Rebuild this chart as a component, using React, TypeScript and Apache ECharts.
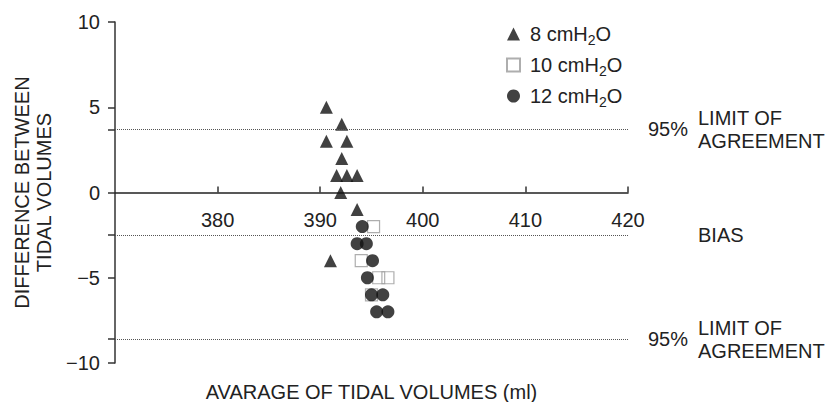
import React, { useEffect, useRef } from "react";
import * as echarts from "echarts";

const FONT = "'Liberation Sans', Arial, Helvetica, sans-serif";
const TEXT = "#222222";
const AXIS = "#333333";

const seriesNames = ["8 cmH2O", "10 cmH2O", "12 cmH2O"];

// [average of tidal volumes, difference between tidal volumes]
const pressure8: number[][] = [
  [390.6, 5], [392.1, 4], [390.6, 3], [392.6, 3], [392.1, 2],
  [391.6, 1], [392.6, 1], [393.6, 1], [392.0, 0], [393.6, -1], [391.0, -4],
];
const pressure10: number[][] = [
  [395.2, -2], [394.0, -4], [395.7, -5], [396.6, -5], [395.0, -6],
];
const pressure12: number[][] = [
  [394.1, -2], [393.6, -3], [394.5, -3], [395.1, -4], [394.6, -5],
  [395.0, -6], [396.1, -6], [395.5, -7], [396.6, -7],
];

const upperLimit = 3.7;
const bias = -2.5;
const lowerLimit = -8.6;

const xMin = 370;
const xMax = 420;
const xInterval = 10;
const yMin = -10;
const yMax = 10;
const yInterval = 5;
const yTickValues = [-10, lowerLimit, -5, bias, 0, upperLimit, 5, 10];

const xAxisName = "AVARAGE OF TIDAL VOLUMES (ml)";
const yAxisName = "DIFFERENCE BETWEEN\nTIDAL VOLUMES";
const limitLabel = "LIMIT OF\nAGREEMENT";
const percentLabel = "95%";
const biasLabel = "BIAS";

function legendText(name: string): string {
  const m = name.match(/^(.*H)2(O)$/);
  if (!m) return `{n|${name}}`;
  return `{n|${m[1]}}{s|2}{n|${m[2]}}`;
}

export default function App() {
  const ref = useRef<HTMLDivElement>(null);
  useEffect(() => {
    if (!ref.current) return;
    const chart = echarts.init(ref.current, undefined, { renderer: "svg" });
    const labelStyle = { fontSize: 20, color: TEXT, fontFamily: FONT };
    const option: any = {
      animation: false,
      textStyle: { fontFamily: FONT },
      grid: [
        { left: 115, right: 205, top: 22, bottom: 39, containLabel: false, outerBoundsMode: "none" },
        { left: 115, right: 205, top: 22, height: 170.5, containLabel: false, outerBoundsMode: "none" },
      ],
      legend: {
        orient: "vertical",
        left: 501,
        top: 19,
        itemWidth: 13,
        itemHeight: 13,
        itemGap: 8,
        data: seriesNames,
        formatter: legendText,
        textStyle: {
          color: TEXT,
          fontFamily: FONT,
          padding: [0, 0, 0, 5],
          rich: {
            n: { fontSize: 20, lineHeight: 26, color: TEXT, fontFamily: FONT },
            s: { fontSize: 14, lineHeight: 14, verticalAlign: "bottom", color: TEXT, fontFamily: FONT },
          },
        },
      },
      xAxis: [
        {
          type: "value",
          gridIndex: 0,
          min: xMin,
          max: xMax,
          interval: xInterval,
          show: false,
          splitLine: { show: false },
        },
        {
          type: "value",
          gridIndex: 1,
          position: "bottom",
          min: xMin,
          max: xMax,
          interval: xInterval,
          name: xAxisName,
          nameLocation: "middle",
          nameGap: 189,
          nameTextStyle: labelStyle,
          axisLine: { show: true, onZero: false, lineStyle: { color: "#222222", width: 1.6 } },
          axisTick: { show: true, inside: true, length: 6, lineStyle: { color: AXIS, width: 1.5 } },
          axisLabel: { ...labelStyle, margin: 17, showMinLabel: false },
          splitLine: { show: false },
        },
      ],
      yAxis: [
        {
          type: "value",
          gridIndex: 0,
          min: yMin,
          max: yMax,
          interval: yInterval,
          name: yAxisName,
          nameLocation: "middle",
          nameRotate: 90,
          nameGap: 59,
          nameTextStyle: { ...labelStyle, lineHeight: 22 },
          axisLine: { show: true, onZero: false, lineStyle: { color: AXIS, width: 1.5 } },
          axisTick: { show: true, inside: false, length: 7, customValues: yTickValues, lineStyle: { color: AXIS, width: 1.5 } },
          axisLabel: {
            ...labelStyle,
            margin: 15,
            formatter: (v: number) => (v < 0 ? "\u2212" + Math.abs(v) : String(v)),
          },
          splitLine: { show: false },
        },
        {
          type: "value",
          gridIndex: 1,
          min: 0,
          max: yMax,
          show: false,
          splitLine: { show: false },
        },
      ],
      series: [
        {
          type: "scatter",
          name: seriesNames[0],
          xAxisIndex: 0,
          yAxisIndex: 0,
          data: pressure8,
          symbol: "triangle",
          symbolSize: 13,
          itemStyle: { color: "#111111" },
          z: 2,
          markLine: {
            silent: true,
            symbol: ["none", "none"],
            lineStyle: { type: "dotted", color: "#555555", width: 1 },
            label: { show: true, position: "end", ...labelStyle, lineHeight: 23 },
            data: [
              { yAxis: upperLimit, label: { formatter: percentLabel, distance: 20 } },
              { yAxis: upperLimit, label: { formatter: limitLabel, distance: 70 } },
              { yAxis: bias, label: { formatter: biasLabel, distance: 70 } },
              { yAxis: lowerLimit, label: { formatter: percentLabel, distance: 20 } },
              { yAxis: lowerLimit, label: { formatter: limitLabel, distance: 70 } },
            ],
          },
        },
        {
          type: "scatter",
          name: seriesNames[1],
          xAxisIndex: 0,
          yAxisIndex: 0,
          data: pressure10,
          symbol: "rect",
          symbolSize: 12,
          itemStyle: { color: "rgba(255,255,255,0)", borderColor: "#9a9a9a", borderWidth: 1.2 },
          z: 3,
        },
        {
          type: "scatter",
          name: seriesNames[2],
          xAxisIndex: 0,
          yAxisIndex: 0,
          data: pressure12,
          symbol: "circle",
          symbolSize: 13,
          itemStyle: { color: "#111111" },
          z: 4,
        },
      ],
    };
    chart.setOption(option);
    return () => chart.dispose();
  }, []);
  return (
    <div
      ref={ref}
      style={{ position: "fixed", left: 0, top: 0, width: 833, height: 402, background: "#ffffff" }}
    />
  );
}
